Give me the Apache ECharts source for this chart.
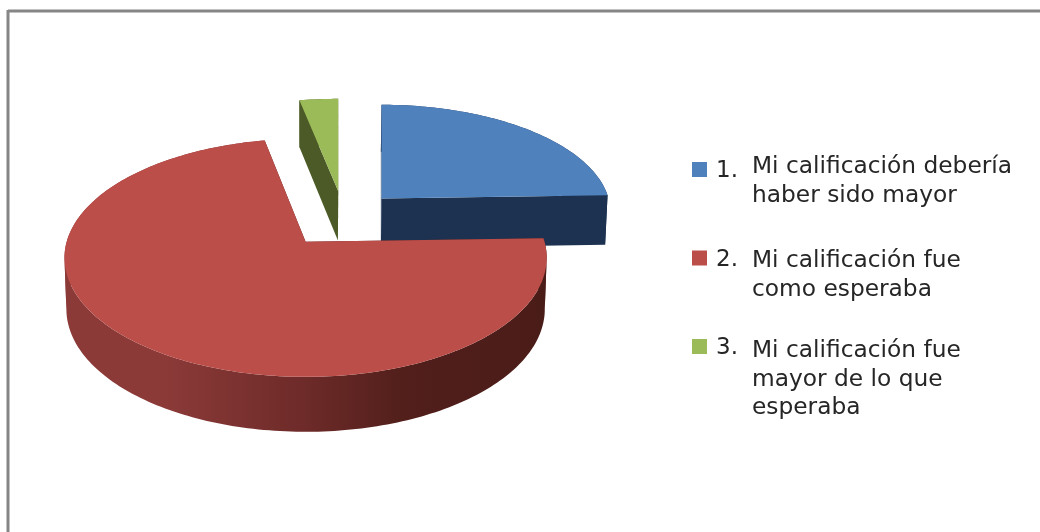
<!DOCTYPE html>
<html>
<head>
<meta charset="utf-8">
<style>html,body{margin:0;padding:0;background:#fff}#c{width:1040px;height:532px}</style>
<script src="https://cdn.jsdelivr.net/npm/echarts@6/dist/echarts.min.js"></script>
</head>
<body>
<div id="c"></div>
<script>
const numbers = ['1.', '2.', '3.'];
const categories = [
  'Mi calificación debería\nhaber sido mayor',
  'Mi calificación fue\ncomo esperaba',
  'Mi calificación fue\nmayor de lo que\nesperaba'
];
const values = [24.5, 72.4, 3.1];
const topColors = ['#4f81bd', '#bc4e4a', '#9bbb59'];
const wallColors = ['#1c3250', '#4f1e1b', '#4b5a26'];
const paintOrder = [1, 3, 2];
const legendTops = [160, 249, 337];
const numberShift = [4, 5, 4];
const textTops = [153, 247, 337];
const nudgeX = [1, 0, 3];

const anchor = [306, 242], radiusX = 239, radiusY = 117, persp = 0.134, depth = 51;
const explodeX = 0.25, explodeY = 0.26;
const hub = [0.154, -0.205];
const total = values.reduce((a, b) => a + b, 0);

const redWall = {
  type: 'linear', x: 65, y: 0, x2: 547, y2: 0, global: true,
  colorStops: [
    { offset: 0, color: '#8b3a38' }, { offset: 0.21, color: '#8b3a38' },
    { offset: 0.49, color: '#6e2b29' }, { offset: 0.7, color: '#521f1b' },
    { offset: 1, color: '#4a1c18' }
  ]
};
function scale(Y) { return 1 / (1 - persp * Y); }
function renderSlice(params, api) {
  const i = params.seriesIndex;
  const value = api.value(0);
  let before = 0;
  for (let k = 0; k < i; k++) before += values[k];
  const a0 = before / total * Math.PI * 2;
  const a1 = (before + value) / total * Math.PI * 2;
  const mid = (a0 + a1) / 2;
  const ox = hub[0] + explodeX * Math.sin(mid), oy = hub[1] - explodeY * Math.cos(mid);
  const apexX = anchor[0] + radiusX * ox * scale(oy) + nudgeX[i];
  const apexT = [apexX, anchor[1] + radiusY * oy * scale(oy)];
  const low = p => [p[0] - (p[0] - anchor[0]) * 0.008, p[1] + depth * (0.5 + 0.5 * p[2])];
  const rim = t => {
    const Y = oy - Math.cos(t), w = scale(Y);
    return [apexX + radiusX * Math.sin(t) * w, anchor[1] + radiusY * Y * w, w];
  };
  const steps = Math.max(4, Math.ceil((a1 - a0) / 0.02));
  const pts = [];
  for (let s = 0; s <= steps; s++) pts.push(rim(a0 + (a1 - a0) * s / steps));
  const topArc = pts.map(p => [p[0], p[1]]);
  const lowArc = pts.map(low);
  const apexL = low([apexT[0], apexT[1], scale(oy)]);
  const poly = (points, fill) => ({ type: 'polygon', silent: true, shape: { points: points }, style: { fill: fill } });
  const children = [
    poly([apexT, topArc[0], lowArc[0], apexL], wallColors[i]),
    poly([apexT, topArc[steps], lowArc[steps], apexL], wallColors[i])
  ];
  // split the side wall where the rim turns in x, so each band never folds over itself
  const cuts = [0];
  for (let s = 1; s < steps; s++) {
    if ((topArc[s][0] - topArc[s - 1][0]) * (topArc[s + 1][0] - topArc[s][0]) < 0) cuts.push(s);
  }
  cuts.push(steps);
  for (let c = 0; c + 1 < cuts.length; c++) {
    const band = topArc.slice(cuts[c], cuts[c + 1] + 1)
      .concat(lowArc.slice(cuts[c], cuts[c + 1] + 1).reverse());
    children.push(poly(band, i === 1 ? redWall : wallColors[i]));
  }
  children.push(poly([apexT].concat(topArc), topColors[i]));
  return { type: 'group', children: children };
}

const chart = echarts.init(document.getElementById('c'), null, { renderer: 'canvas' });
chart.setOption({
  animation: false,
  backgroundColor: '#ffffff',
  series: categories.map((name, i) => ({
    type: 'custom',
    name: name,
    coordinateSystem: 'none',
    z: paintOrder[i],
    silent: true,
    itemStyle: { color: topColors[i] },
    renderItem: renderSlice,
    data: [[values[i]]]
  })),
  legend: categories.map((name, i) => ({
    left: 692,
    top: legendTops[i],
    padding: 0,
    selectedMode: false,
    icon: 'rect',
    itemWidth: 15,
    itemHeight: 15,
    itemGap: 0,
    data: [{ name: name, icon: 'rect', itemStyle: { color: topColors[i] } }],
    formatter: () => '{n|' + numbers[i] + '}',
    textStyle: {
      rich: {
        n: { fontFamily: 'DejaVu Sans', fontSize: 23, color: '#262626', padding: [numberShift[i], 0, 0, 4] }
      }
    }
  })),
  graphic: [
    { type: 'line', silent: true, shape: { x1: 8, y1: 11, x2: 1040, y2: 11 }, style: { stroke: '#868686', lineWidth: 3 } },
    { type: 'line', silent: true, shape: { x1: 8, y1: 10, x2: 8, y2: 532 }, style: { stroke: '#868686', lineWidth: 3 } }
  ].concat(categories.map((name, i) => ({
    type: 'text',
    silent: true,
    x: 752,
    y: textTops[i],
    style: { text: name, font: '23.3px "DejaVu Sans"', lineHeight: 28.5, fill: '#262626' }
  })))
});
</script>
</body>
</html>
